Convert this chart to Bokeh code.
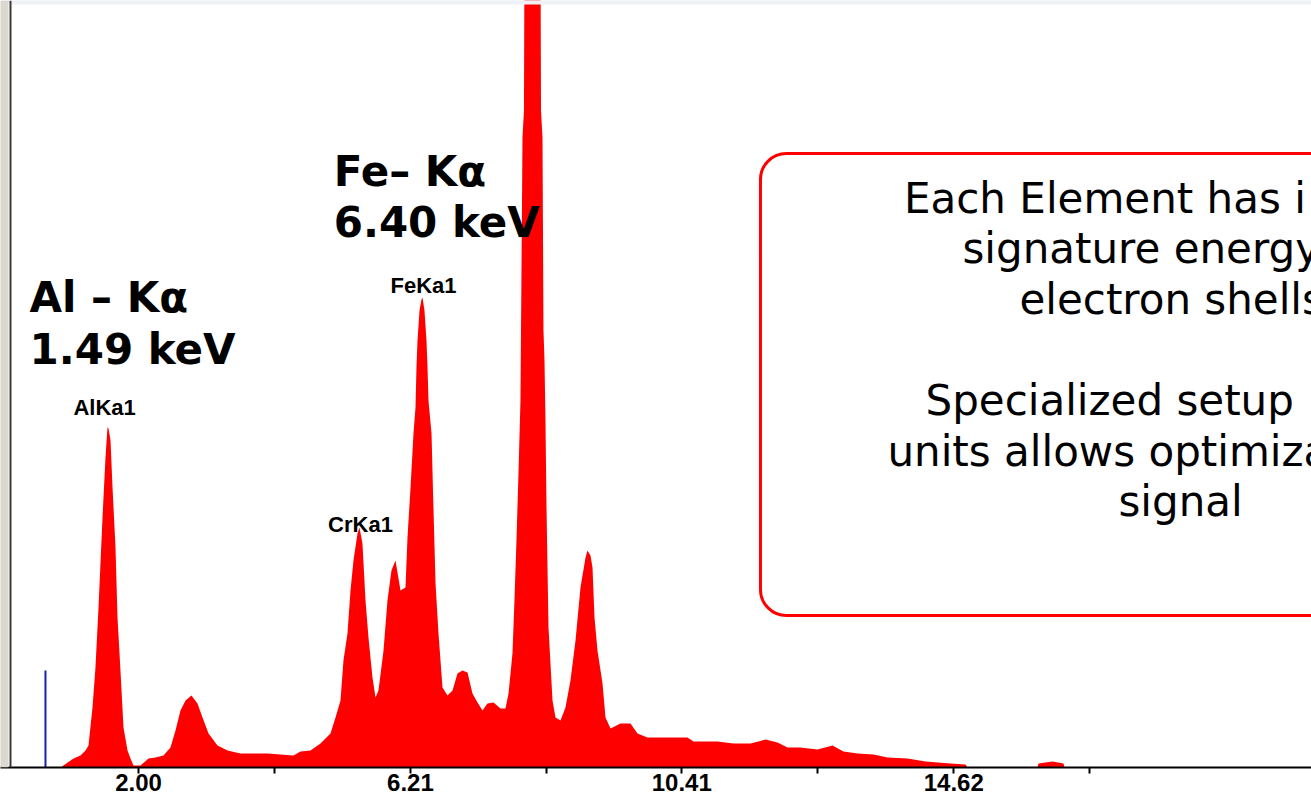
from bokeh.plotting import figure
from bokeh.models import Range1d, FixedTicker, Label, BoxAnnotation, Span, ColumnDataSource, PrintfTickFormatter
from bokeh.core.properties import value
from bokeh.embed import file_html
from bokeh.resources import INLINE

# ---- spectrum (energy in keV, counts in arbitrary units) ----
energy_kev = [0.793, 0.994, 1.102, 1.180, 1.226, 1.288, 1.334, 1.381, 1.443, 1.489,
              1.520, 1.536, 1.567, 1.598, 1.644, 1.675, 1.721, 1.768, 1.830, 1.876,
              1.923, 2.031, 2.155, 2.263, 2.387, 2.495, 2.573, 2.650, 2.728, 2.820,
              2.913, 2.991, 3.084, 3.223, 3.378, 3.579, 3.997, 4.399, 4.508, 4.663,
              4.817, 4.972, 5.050, 5.127, 5.173, 5.235, 5.282, 5.328, 5.390, 5.421,
              5.467, 5.514, 5.560, 5.622, 5.669, 5.715, 5.793, 5.854, 5.916, 5.978,
              6.056, 6.133, 6.164, 6.211, 6.257, 6.288, 6.303, 6.319, 6.350, 6.381,
              6.396, 6.427, 6.458, 6.474, 6.489, 6.536, 6.567, 6.598, 6.644, 6.706,
              6.783, 6.861, 6.938, 7.015, 7.093, 7.170, 7.248, 7.325, 7.402, 7.495,
              7.604, 7.681, 7.728, 7.789, 7.820, 7.851, 7.882, 7.913, 7.929, 7.944,
              7.967, 7.975, 8.099, 8.223, 8.231, 8.254, 8.269, 8.285, 8.300, 8.316,
              8.347, 8.409, 8.455, 8.533, 8.610, 8.687, 8.765, 8.842, 8.920, 8.950,
              8.997, 9.028, 9.059, 9.105, 9.183, 9.229, 9.307, 9.461, 9.616, 9.724,
              9.879, 10.189, 10.498, 10.591, 10.963, 11.211, 11.474, 11.706, 11.892, 12.046,
              12.248, 12.511, 12.743, 12.913, 13.130, 13.378, 13.594, 13.904, 14.183, 14.570,
              14.802, 14.833, 15.916, 15.932, 16.149, 16.319, 16.334, 20.158]
counts = [0, 9, 12, 17, 22, 60, 100, 160, 250, 310,
          340, 339, 327, 280, 220, 150, 97, 40, 17, 9,
          2, 2, 9, 10, 12, 20, 37, 57, 67, 72,
          64, 50, 34, 22, 17, 14, 14, 12, 16, 17,
          24, 34, 50, 67, 107, 134, 177, 207, 234, 240,
          224, 167, 130, 90, 70, 77, 117, 167, 197, 207,
          177, 180, 230, 280, 334, 360, 400, 427, 457, 468,
          470, 457, 427, 400, 367, 334, 257, 184, 134, 80,
          72, 77, 94, 97, 95, 74, 65, 57, 64, 65,
          59, 59, 74, 114, 167, 227, 294, 367, 500, 630,
          657, 820, 900, 820, 657, 630, 437, 407, 347, 260,
          140, 67, 50, 47, 60, 87, 127, 180, 210, 217,
          212, 200, 150, 117, 84, 50, 39, 44, 44, 34,
          30, 30, 30, 26, 26, 24, 24, 28, 25, 20,
          20, 18, 22, 16, 14, 13, 10, 9, 6, 4,
          3, 0, 0, 4, 6, 4, 0, 0]

# identified lines
line_names = ["AlKa1", "CrKa1", "FeKa1"]
line_energies = [1.475, 5.437, 6.412]
line_label_heights = [360, 243, 482]

# cursor marker
cursor_energy = [0.560]
cursor_height = [97]

# axis ticks
major_ticks = [2.00, 6.21, 10.41, 14.62]
minor_ticks = [4.105, 8.3125, 12.515, 16.7225]

p = figure(width=1311, height=804, output_backend="svg", toolbar_location=None,
           x_range=Range1d(-0.1362, 20.158), y_range=Range1d(0, 767),
           y_axis_location=None, min_border_left=0, min_border_right=0,
           min_border_top=0, min_border_bottom=37)
p.xgrid.visible = False
p.ygrid.visible = False
p.outline_line_color = None
p.background_fill_color = "white"
p.border_fill_color = "white"

src = ColumnDataSource(dict(x=energy_kev, y=counts))
p.varea(x="x", y1=0, y2="y", source=src, fill_color="#ff0000")

csrc = ColumnDataSource(dict(x=cursor_energy, h=cursor_height, z=[0] * len(cursor_energy)))
p.segment(x0="x", y0="z", x1="x", y1="h", source=csrc, line_color="#1020b0", line_width=2)

lsrc = ColumnDataSource(dict(x=line_energies, y=line_label_heights, t=line_names))
p.text(x="x", y="y", text="t", source=lsrc, text_font=value("Liberation Sans"),
       text_font_style="bold", text_font_size="22px", text_align="center",
       text_baseline="alphabetic", text_color="black")

ax = p.xaxis[0]
ax.ticker = FixedTicker(ticks=major_ticks, minor_ticks=minor_ticks)
ax.formatter = PrintfTickFormatter(format="%.2f")
ax.axis_line_color = "black"
ax.axis_line_width = 2
ax.major_tick_line_color = "black"
ax.major_tick_line_width = 2
ax.major_tick_out = 6
ax.major_tick_in = 0
ax.minor_tick_line_color = "black"
ax.minor_tick_line_width = 2
ax.minor_tick_out = 6
ax.minor_tick_in = 0
ax.major_label_standoff = 0
ax.major_label_text_font = "Liberation Sans"
ax.major_label_text_font_style = "bold"
ax.major_label_text_font_size = "24px"
ax.major_label_text_color = "black"

# window chrome: top band, bottom band and left border strip
p.add_layout(BoxAnnotation(bottom=763, top=780, fill_color="#eef1f6", fill_alpha=1,
                           line_alpha=0))
p.add_layout(BoxAnnotation(bottom=-45, top=-31, fill_color="#e2dfd8", fill_alpha=1,
                           line_alpha=0))
p.add_layout(BoxAnnotation(left=-0.2, right=-0.0124, fill_color="#dcd8d0", fill_alpha=1,
                           line_alpha=0))
p.add_layout(Span(location=0.0186, dimension="height", line_color="#3a3a3a", line_width=2))

box = BoxAnnotation(left=11.628, right=25.0, bottom=152, top=614, line_color="#ff0000",
                    line_alpha=1, line_width=3, fill_alpha=0, border_radius=26)
p.add_layout(box)

big = dict(text_font="DejaVu Sans", text_font_style="bold", text_font_size="42px",
           text_baseline="alphabetic", text_align="left", text_color="black")
p.add_layout(Label(x=0.313, y=470, text="Al – Kα", **big))
p.add_layout(Label(x=0.313, y=418, text="1.49 keV", **big))
p.add_layout(Label(x=5.022, y=596, text="Fe– Kα", **big))
p.add_layout(Label(x=5.022, y=545, text="6.40 keV", **big))

body = dict(text_font="DejaVu Sans", text_font_size="42px", text_baseline="alphabetic",
            text_align="left", text_color="black")
p.add_layout(Label(x=13.850, y=569, text="Each Element has i", **body))
p.add_layout(Label(x=14.755, y=519, text="signature energy", **body))
p.add_layout(Label(x=15.637, y=468, text="electron shells", **body))
p.add_layout(Label(x=14.183, y=367, text="Specialized setup", **body))
p.add_layout(Label(x=13.594, y=316, text="units allows optimiza", **body))
p.add_layout(Label(x=17.170, y=266, text="signal", **body))

open("out.html", "w").write(file_html(p, INLINE))
